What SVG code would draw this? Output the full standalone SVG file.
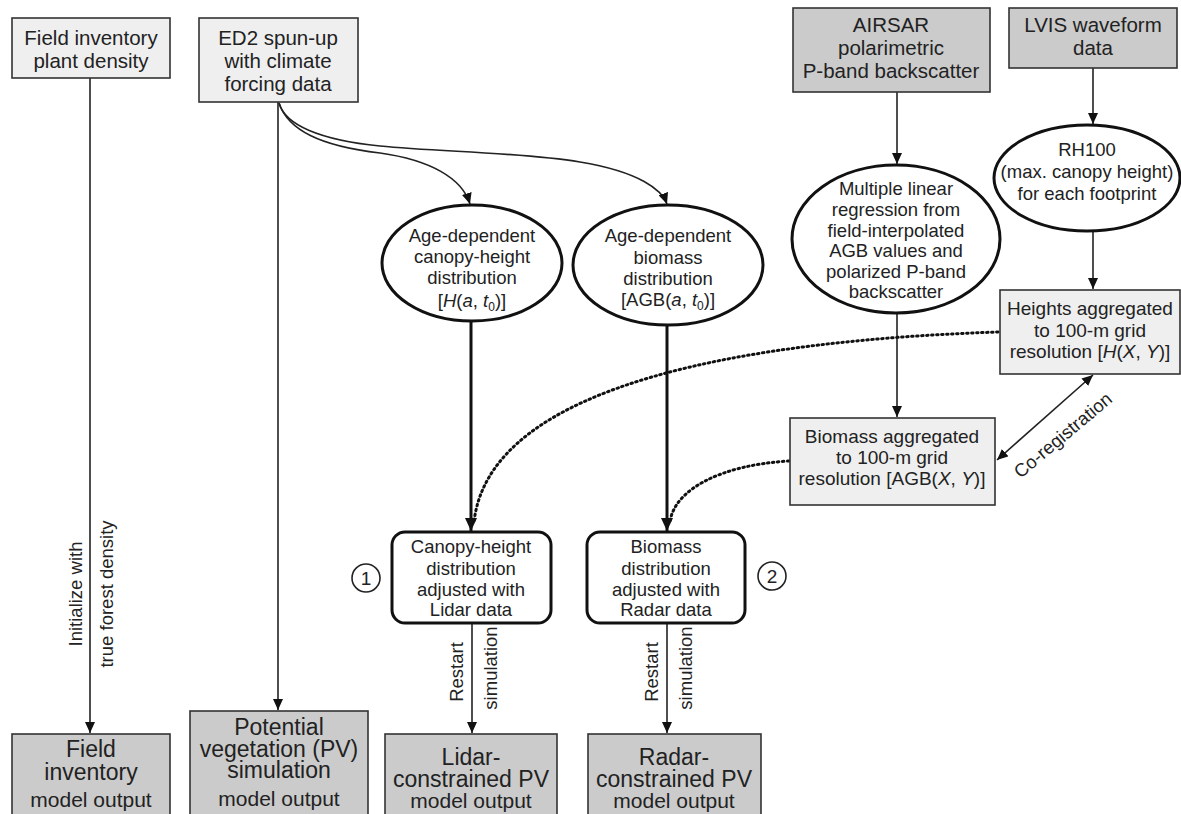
<svg xmlns="http://www.w3.org/2000/svg" width="1181" height="814" viewBox="0 0 1181 814">
<style>
text{font-family:"Liberation Sans",Arial,sans-serif;fill:#222;text-anchor:middle}
.t20{font-size:20.5px}
.t19{font-size:19px}
.t18{font-size:18.5px}
.big{font-size:23px}
.mo{font-size:21px}
.light{fill:#efefef;stroke:#333;stroke-width:1.6}
.dark{fill:#cbcbcb;stroke:#333;stroke-width:1.6}
.ell{fill:#fff;stroke:#111;stroke-width:3}
.rbox{fill:#fff;stroke:#111;stroke-width:3}
.ln{fill:none;stroke:#222;stroke-width:1.6}
.thick{fill:none;stroke:#111;stroke-width:3}
.dot{fill:none;stroke:#111;stroke-width:3;stroke-dasharray:1.5 3.5;stroke-linecap:round}
.it{font-style:italic}
</style>
<defs>
<marker id="ah" markerUnits="userSpaceOnUse" markerWidth="12" markerHeight="10" refX="11" refY="5" orient="auto">
<path d="M0,0 L11,5 L0,10 Z" fill="#111"/>
</marker>
<marker id="ahs" markerUnits="userSpaceOnUse" markerWidth="12" markerHeight="10" refX="11" refY="5" orient="auto-start-reverse">
<path d="M0,0 L11,5 L0,10 Z" fill="#111"/>
</marker>
<marker id="ahT" markerUnits="userSpaceOnUse" markerWidth="14" markerHeight="12" refX="13" refY="6" orient="auto">
<path d="M0,0 L13,6 L0,12 Z" fill="#111"/>
</marker>
</defs>

<g id="connectors">
<path class="ln" d="M90,78 L90,733" marker-end="url(#ah)"/>
<path class="ln" d="M278,102 L278,710" marker-end="url(#ah)"/>
<path class="ln" d="M279,103 C285,125 320,140 380,146 C440,152 520,152 580,162 C640,172 662,190 667,204" marker-end="url(#ah)"/>
<path class="ln" d="M279,103 C288,130 320,146 380,153 C430,160 462,178 470,204" marker-end="url(#ah)"/>
<path class="ln" d="M897,92 L897,164" marker-end="url(#ah)"/>
<path class="ln" d="M1093,68 L1093,124" marker-end="url(#ah)"/>
<path class="ln" d="M1093,232 L1093,289" marker-end="url(#ah)"/>
<path class="ln" d="M897,313 L897,417" marker-end="url(#ah)"/>
<path class="ln" d="M997,460 L1093,375" marker-start="url(#ahs)" marker-end="url(#ahs)"/>
<path class="thick" d="M471,321 L471,531" marker-end="url(#ahT)"/>
<path class="thick" d="M667,325 L667,531" marker-end="url(#ahT)"/>
<path class="dot" d="M998,332 C760,340 490,380 474,522"/>
<path class="dot" d="M789,461 C720,465 674,490 670,522"/>
<path class="ln" d="M472,623 L472,733" marker-end="url(#ah)"/>
<path class="ln" d="M667,623 L667,733" marker-end="url(#ah)"/>
<text class="t18" transform="translate(82,594) rotate(-90)">Initialize with</text>
<text class="t18" transform="translate(113,594) rotate(-90)">true forest density</text>
<text class="t18" transform="translate(463,672) rotate(-90)">Restart</text>
<text class="t18" transform="translate(497,668) rotate(-90)">simulation</text>
<text class="t18" transform="translate(658,672) rotate(-90)">Restart</text>
<text class="t18" transform="translate(692,668) rotate(-90)">simulation</text>
<text class="t18" transform="translate(1067,440) rotate(-40)">Co-registration</text>
</g>

<g id="field-density">
<rect class="light" x="12" y="18" width="158" height="60"/>
<text class="t20" x="91" y="45">Field inventory<tspan x="91" dy="23">plant density</tspan></text>
</g>

<g id="ed2">
<rect class="light" x="199" y="18" width="159" height="84"/>
<text class="t20" x="278" y="45">ED2 spun-up<tspan x="278" dy="23">with climate</tspan><tspan x="278" dy="23">forcing data</tspan></text>
</g>

<g id="airsar">
<rect class="dark" x="793" y="8" width="197" height="84"/>
<text class="t20" x="891" y="32">AIRSAR<tspan x="891" dy="23">polarimetric</tspan><tspan x="891" dy="23">P-band backscatter</tspan></text>
</g>

<g id="lvis">
<rect class="dark" x="1009" y="8" width="168" height="60"/>
<text class="t20" x="1093" y="32">LVIS waveform<tspan x="1093" dy="23">data</tspan></text>
</g>

<g id="rh100">
<ellipse class="ell" cx="1087" cy="178" rx="93" ry="53"/>
<text class="t18" x="1087" y="156">RH100<tspan x="1087" dy="22">(max. canopy height)</tspan><tspan x="1087" dy="22">for each footprint</tspan></text>
</g>

<g id="mlr">
<ellipse class="ell" cx="896" cy="239" rx="104" ry="74"/>
<text class="t18" x="896" y="195">Multiple linear<tspan x="896" dy="21">regression from</tspan><tspan x="896" dy="21">field-interpolated</tspan><tspan x="896" dy="20">AGB values and</tspan><tspan x="896" dy="21">polarized P-band</tspan><tspan x="896" dy="20">backscatter</tspan></text>
</g>

<g id="age-height">
<ellipse class="ell" cx="472" cy="263" rx="90" ry="58"/>
<text class="t18" x="472" y="242">Age-dependent<tspan x="472" dy="21">canopy-height</tspan><tspan x="472" dy="21">distribution</tspan><tspan x="472" dy="23">[</tspan><tspan class="it">H</tspan>(<tspan class="it">a</tspan>, <tspan class="it">t</tspan><tspan font-size="12" dy="4">0</tspan><tspan dy="-4">)]</tspan></text>
</g>

<g id="age-biomass">
<ellipse class="ell" cx="668" cy="265" rx="95" ry="60"/>
<text class="t18" x="668" y="242">Age-dependent<tspan x="668" dy="22">biomass</tspan><tspan x="668" dy="21">distribution</tspan><tspan x="668" dy="21">[AGB(</tspan><tspan class="it">a</tspan>, <tspan class="it">t</tspan><tspan font-size="12" dy="4">0</tspan><tspan dy="-4">)]</tspan></text>
</g>

<g id="heights-agg">
<rect class="light" x="1000" y="290" width="180" height="84"/>
<text class="t19" x="1090" y="315">Heights aggregated<tspan x="1090" dy="22">to 100-m grid</tspan><tspan x="1090" dy="21">resolution  [</tspan><tspan class="it">H</tspan>(<tspan class="it">X</tspan>, <tspan class="it">Y</tspan>)]</text>
</g>

<g id="biomass-agg">
<rect class="light" x="790" y="418" width="205" height="87"/>
<text class="t19" x="892" y="443">Biomass aggregated<tspan x="892" dy="21">to 100-m grid</tspan><tspan x="892" dy="21">resolution [AGB(</tspan><tspan class="it">X</tspan>, <tspan class="it">Y</tspan>)]</text>
</g>

<g id="lidar-adj">
<rect class="rbox" x="392" y="532" width="159" height="91" rx="13"/>
<text class="t18" x="471" y="553">Canopy-height<tspan x="471" dy="22">distribution</tspan><tspan x="471" dy="21">adjusted with</tspan><tspan x="471" dy="20">Lidar data</tspan></text>
</g>

<g id="radar-adj">
<rect class="rbox" x="587" y="532" width="158" height="91" rx="13"/>
<text class="t18" x="666" y="553">Biomass<tspan x="666" dy="22">distribution</tspan><tspan x="666" dy="21">adjusted with</tspan><tspan x="666" dy="20">Radar data</tspan></text>
</g>

<g id="marker-1">
<circle cx="366" cy="578" r="14" fill="#fff" stroke="#222" stroke-width="1.6"/>
<text class="t19" x="366" y="585">1</text>
</g>

<g id="marker-2">
<circle cx="772" cy="576" r="14" fill="#fff" stroke="#222" stroke-width="1.6"/>
<text class="t19" x="772" y="583">2</text>
</g>

<g id="out-field">
<rect class="dark" x="12" y="734" width="158" height="84"/>
<text class="big" x="91" y="757">Field<tspan x="91" dy="23">inventory</tspan><tspan x="91" dy="27" class="mo">model output</tspan></text>
</g>

<g id="out-pv">
<rect class="dark" x="190" y="711" width="178" height="107"/>
<text class="big" x="279" y="735">Potential<tspan x="279" dy="22">vegetation (PV)</tspan><tspan x="279" dy="21">simulation</tspan><tspan x="279" dy="28" class="mo">model output</tspan></text>
</g>

<g id="out-lidar">
<rect class="dark" x="385" y="734" width="172" height="84"/>
<text class="big" x="471" y="765">Lidar-<tspan x="471" dy="22">constrained PV</tspan><tspan x="471" dy="21" class="mo">model output</tspan></text>
</g>

<g id="out-radar">
<rect class="dark" x="588" y="734" width="173" height="84"/>
<text class="big" x="674" y="765">Radar-<tspan x="674" dy="22">constrained PV</tspan><tspan x="674" dy="21" class="mo">model output</tspan></text>
</g>
</svg>
